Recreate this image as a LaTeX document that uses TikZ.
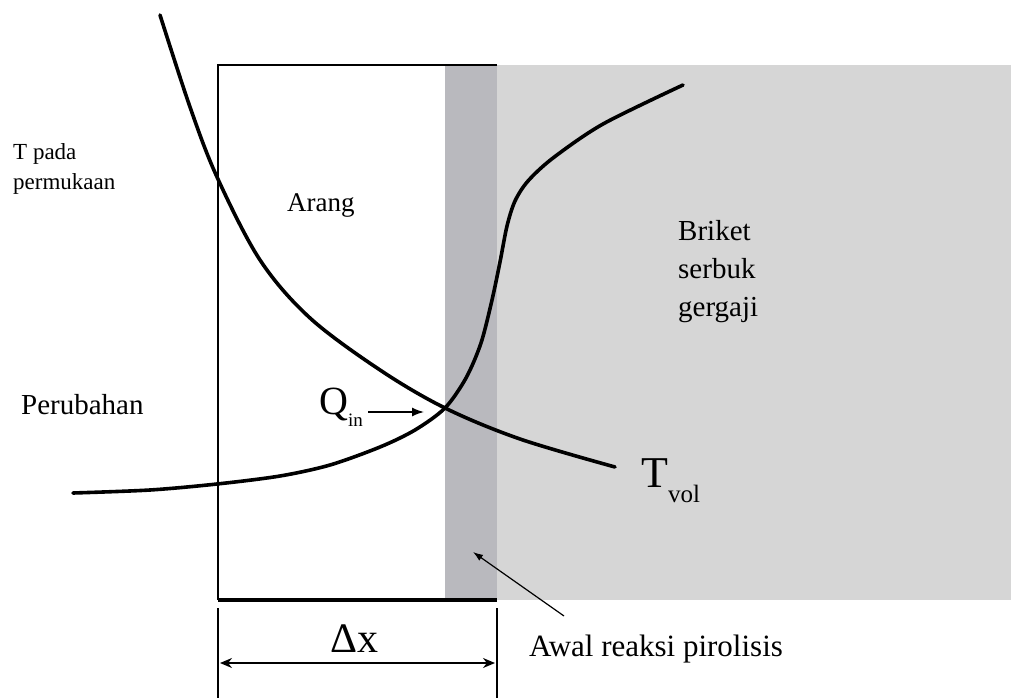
\documentclass[tikz,border=0pt]{standalone}
\usepackage{fontspec}
\setmainfont{Liberation Serif}
\usetikzlibrary{arrows.meta,positioning}
\definecolor{briketgrey}{HTML}{D6D6D6}
\definecolor{zonegrey}{HTML}{B9B9BE}

\begin{document}
\begin{tikzpicture}[x=1pt,y=-1pt,>=Latex,
    lbl/.style={inner sep=0pt,align=left,font=\fontsize{29}{38}\selectfont},
    bigsym/.style={inner sep=0pt,anchor=base west,font=\fontsize{40}{40}\selectfont},
    curve/.style={line width=3.6pt,line cap=round}]
      \useasboundingbox (0,0) rectangle (1011,698);
      % regions
      \fill[briketgrey] (497,65) rectangle (1011,600);
      \fill[zonegrey] (445,65) rectangle (497,600);
      \draw[line width=2.2pt] (497,65) -- (218,65) -- (218,600);
      \draw[line width=3.2pt] (218,600) -- (497,600);
      % temperature curves
      \draw[curve] plot[smooth,tension=0.55] coordinates {(160,15) (190,107) (217,177) (260,260) (310,318) (380,370) (445,408) (520,439) (615,467)};
      \draw[curve] plot[smooth,tension=0.5] coordinates {(73,493) (150,490) (217,484) (280,476) (330,465) (380,447) (415,430) (445,408) (466,378) (481,343) (492,300) (500,262) (507,226) (515,201) (528,181) (553,158) (603,124) (683,85)};
      % labels
      \node[lbl,anchor=north west,font=\fontsize{23}{30}\selectfont] (tpada) at (13,143) {T pada\\permukaan};
      \node[lbl,anchor=base west,font=\fontsize{27}{30}\selectfont] (arang) at (287,211) {Arang};
      \node[lbl,anchor=base west] (perubahan) at (21,414) {Perubahan};
      \node[lbl,anchor=north west] (briket) at (678,220) {Briket\\serbuk\\gergaji};
      \node[lbl,anchor=base west,font=\fontsize{31}{31}\selectfont] (awal) at (529,656) {Awal reaksi pirolisis};
      \node[bigsym,font=\fontsize{40}{40}\selectfont] (qin) at (319,414) {Q\raisebox{-0.3em}{\fontsize{19}{19}\selectfont in}};
      \node[bigsym,font=\fontsize{44}{44}\selectfont] (tvol) at (641,487) {T\raisebox{-0.36em}{\fontsize{25}{25}\selectfont vol}};
      \node[bigsym,font=\fontsize{42}{42}\selectfont] (dx) at (330,652) {Δx};
      % arrows
      \coordinate (qtip) at (424,412);
      \draw[-{Latex[length=12pt,width=9pt]},line width=1.5pt] ([xshift=5pt,yshift=2pt]qin.base east) -- (qtip);
      \coordinate (awaltail) at (564,616);
      \coordinate (zonetip) at (473,552);
      \draw[-{Latex[length=10pt,width=7pt]},line width=1.2pt] (awaltail) -- (zonetip);
      \coordinate (dxleft) at (220,663);
      \coordinate (dxright) at (495,663);
      \draw[line width=1.3pt] (218,608) -- (218,698);
      \draw[line width=1.3pt] (497,608) -- (497,698);
      \draw[{Stealth[length=12pt,width=10pt]}-{Stealth[length=12pt,width=10pt]},line width=1.5pt] (dxleft) -- (dxright);
\end{tikzpicture}
\end{document}
